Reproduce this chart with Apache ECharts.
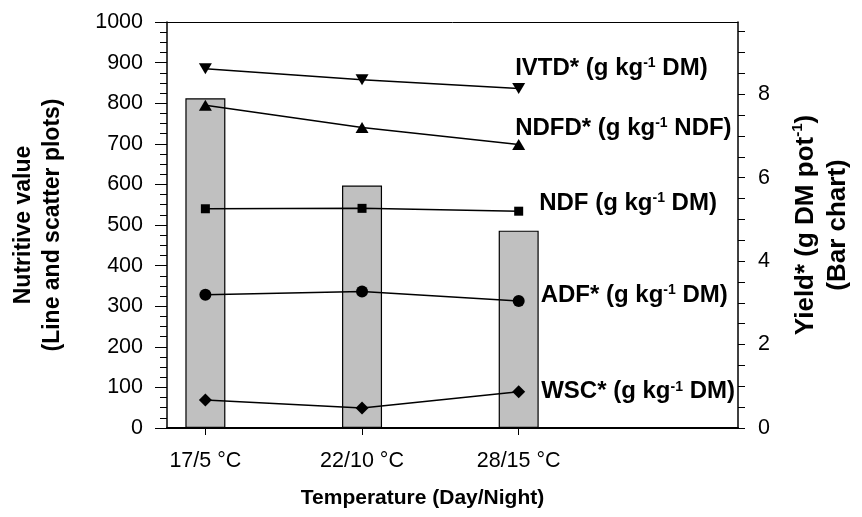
<!DOCTYPE html>
<html>
<head>
<meta charset="utf-8">
<script src="https://cdn.jsdelivr.net/npm/echarts@6/dist/echarts.min.js"></script>
<style>
  html, body { margin: 0; padding: 0; background: #fff; }
  #chart { width: 862px; height: 517px; }
</style>
</head>
<body>
<div id="chart"></div>
<script>
const categories = ["17/5 °C", "22/10 °C", "28/15 °C"];
const positions = [1, 2, 3];
const ivtd = [885, 858, 836];
const ndfd = [795, 740, 698];
const ndf = [540, 541, 534];
const adf = [328, 336, 313];
const wsc = [69, 49, 89];
const yieldVals = [7.9, 5.81, 4.73];
const rightLabels = [0, 2, 4, 6, 8];
const rightTicks = [0, 0.5, 1, 1.5, 2, 2.5, 3, 3.5, 4, 4.5, 5, 5.5, 6, 6.5, 7, 7.5, 8, 8.5, 9, 9.5];

const FONT = "Liberation Sans";
const chart = echarts.init(document.getElementById("chart"));

function pts(vals) {
  return vals.map((v, i) => [positions[i], v]);
}

const supStyle = { fontFamily: FONT, fontWeight: "bold", fontSize: 14, color: "#000", verticalAlign: "top", padding: [0, 0, 9, 0] };

// line series, its name printed beside the last point
function lineSeries(name, vals, symbol, size, rot, label, off) {
  const d = pts(vals).map((p, i) => {
    if (i < vals.length - 1) return p;
    return {
      value: p,
      label: {
        show: true, position: "right", distance: 0, offset: off,
        formatter: label,
        rich: {
          a: { fontFamily: FONT, fontWeight: "bold", fontSize: 24, color: "#000" },
          s: supStyle
        }
      }
    };
  });
  return {
    name: name, type: "line", data: d,
    symbol: symbol, symbolSize: size, symbolRotate: rot,
    showAllSymbol: true,
    lineStyle: { color: "#000", width: 1.5 },
    itemStyle: { color: "#000" },
    z: 5
  };
}

const option = {
  animation: false,
  grid: { left: 167, right: 114, top: 22, bottom: 89 },
  xAxis: [
    {
      type: "value", min: 0.755, max: 4.4, position: "bottom",
      splitLine: { show: false },
      axisLine: { show: true, onZero: false, lineStyle: { color: "#000", width: 2 } },
      axisTick: { show: true, customValues: positions, length: 7, lineStyle: { color: "#000", width: 1 } },
      axisLabel: {
        customValues: positions, margin: 22,
        fontFamily: FONT, fontSize: 21.5, color: "#000",
        formatter: v => categories[positions.indexOf(Math.round(v))] || ""
      },
      name: "Temperature (Day/Night)", nameLocation: "middle", nameGap: 60,
      nameTextStyle: { fontFamily: FONT, fontWeight: "bold", fontSize: 21, color: "#000", padding: [0, 60, 0, 0] }
    },
    {
      type: "value", min: 0.755, max: 4.4, position: "top",
      splitLine: { show: false },
      axisLine: { show: true, onZero: false, lineStyle: { color: "#000", width: 1 } },
      axisTick: { show: false }, axisLabel: { show: false }
    }
  ],
  yAxis: [
    {
      type: "value", min: 0, max: 1000, interval: 100, position: "left",
      splitLine: { show: false },
      axisLine: { show: true, lineStyle: { color: "#000", width: 1.5 } },
      axisTick: { show: true, length: 12, lineStyle: { color: "#000", width: 1 } },
      minorTick: { show: true, splitNumber: 4, length: 7, lineStyle: { color: "#000", width: 1 } },
      axisLabel: { margin: 24, fontFamily: FONT, fontSize: 21.5, color: "#000", formatter: v => String(v) },
      name: "Nutritive value\n(Line and scatter plots)", nameLocation: "middle", nameGap: 100,
      nameTextStyle: { fontFamily: FONT, fontWeight: "bold", fontSize: 23, color: "#000", lineHeight: 29 }
    },
    {
      type: "value", min: 0, max: 9.73, position: "right",
      splitLine: { show: false },
      axisLine: { show: true, lineStyle: { color: "#000", width: 1.5 } },
      axisTick: { show: true, customValues: rightTicks, length: 7, lineStyle: { color: "#000", width: 1 } },
      axisLabel: { customValues: rightLabels, margin: 20, fontFamily: FONT, fontSize: 21.5, color: "#000" },
      name: "{b|Yield* (g DM pot}{s|-1}{b|)}\n{b|(Bar chart)}", nameLocation: "middle", nameGap: 52,
      nameTextStyle: {
        fontFamily: FONT, fontWeight: "bold", fontSize: 26, color: "#000", lineHeight: 32,
        rich: {
          b: { fontFamily: FONT, fontWeight: "bold", fontSize: 26, color: "#000", lineHeight: 32 },
          s: { fontFamily: FONT, fontWeight: "bold", fontSize: 15, color: "#000", verticalAlign: "top", padding: [0, 0, 10, 0] }
        }
      }
    }
  ],
  series: [
    {
      name: "Yield", type: "bar", yAxisIndex: 1, data: pts(yieldVals), barWidth: 40,
      itemStyle: { color: "#c0c0c0", borderColor: "#000", borderWidth: 1.2 },
      z: 2
    },
    lineSeries("IVTD", ivtd, "triangle", [13, 11], 180, "{a|IVTD* (g kg}{s|-1}{a| DM)}", [-10, -20]),
    lineSeries("NDFD", ndfd, "triangle", [13, 11], 0, "{a|NDFD* (g kg}{s|-1}{a| NDF)}", [-10, -16]),
    lineSeries("NDF", ndf, "rect", 9, 0, "{a|NDF (g kg}{s|-1}{a| DM)}", [16, -8]),
    lineSeries("ADF", adf, "circle", 12, 0, "{a|ADF* (g kg}{s|-1}{a| DM)}", [16, -6]),
    lineSeries("WSC", wsc, "diamond", [13, 13], 0, "{a|WSC* (g kg}{s|-1}{a| DM)}", [16, 0])
  ]
};

chart.setOption(option);
</script>
</body>
</html>
